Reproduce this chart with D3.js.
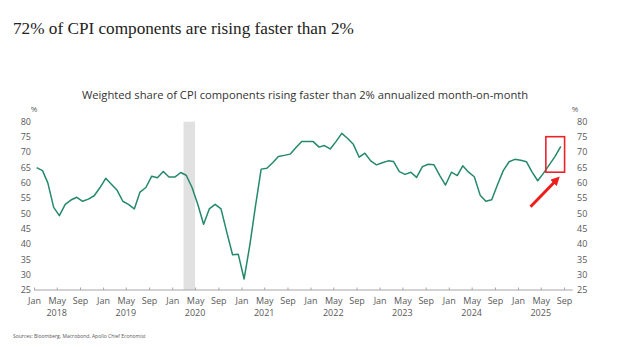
<!DOCTYPE html>
<html>
<head>
<meta charset="utf-8">
<script src="https://cdn.jsdelivr.net/npm/d3@7"></script>
<style>
  html, body { margin: 0; padding: 0; background: #fff; }
  svg { display: block; }
</style>
</head>
<body>
<div id="chart"></div>
<script>
// monthly values, Jan 2018 .. Aug 2025 (weighted share, %)
const startMonth = "2018-01";
const shareValues = [
  65, 64, 60, 52, 49.3, 53, 54.4, 55.3, 54, 54.7, 55.8, 58.4,
  61.5, 59.5, 57.7, 54, 53, 51.5, 57, 58.5, 62.2, 61.7, 63.7, 61.9,
  61.9, 63.4, 62.5, 58.5, 53, 46.5, 51.5, 53, 51.5, 44, 36.5, 36.7,
  28.6, 40, 52, 64.5, 64.8, 66.6, 68.6, 69, 69.4, 71.5, 73.5, 73.5,
  73.5, 71.7, 72.2, 71.1, 73.5, 76.2, 74.6, 72.6, 68.4, 69.7, 67.2, 65.9,
  66.6, 67.2, 67.0, 63.7, 62.8, 63.5, 61.8, 65.3, 66.1, 65.9, 62.4, 59.3,
  63.5, 62.4, 65.6, 63.5, 62, 56, 54, 54.5, 59.5, 64, 66.9, 67.7,
  67.4, 66.9, 63.7, 60.7, 63.1, 65.9, 68.6, 71.9
];
const yTicks = [25, 30, 35, 40, 45, 50, 55, 60, 65, 70, 75, 80];
const monthTickNames = ["Jan", "May", "Sep"];
const years = [2018, 2019, 2020, 2021, 2022, 2023, 2024, 2025];
const recession = ["2020-03-01", "2020-05-01"];
const highlightBox = { from: "2025-05-28", to: "2025-09-04", low: 63.5, high: 75.1 };
const arrowFrom = { date: "2025-03-08", value: 52.2 };
const arrowTo = { date: "2025-07-14", value: 60.4 };

const width = 624, height = 347;
const parse = d3.utcParse("%Y-%m-%d");
const data = shareValues.map((v, i) => {
  const d = d3.utcMonth.offset(d3.utcParse("%Y-%m")(startMonth), i);
  return { date: d3.utcDay.offset(d, 14), value: v };
});

const x = d3.scaleUtc()
  .domain([parse("2018-01-01"), parse("2025-10-01")])
  .range([34, 569.7]);
const y = d3.scaleLinear().domain([25, 80]).range([290, 121.7]);

const svg = d3.select("#chart").append("svg")
  .attr("width", width)
  .attr("height", height)
  .attr("font-family", "'Open Sans', 'Noto Sans', sans-serif");

// headline
svg.append("text")
  .attr("x", 13).attr("y", 34)
  .attr("font-family", "'Liberation Serif', 'DejaVu Serif', serif")
  .attr("font-size", 17.2)
  .attr("fill", "#222")
  .text("72% of CPI components are rising faster than 2%");

// chart title
svg.append("text")
  .attr("x", 305).attr("y", 99)
  .attr("text-anchor", "middle")
  .attr("font-size", 11.2)
  .attr("fill", "#333")
  .text("Weighted share of CPI components rising faster than 2% annualized month-on-month");

// recession band
svg.append("rect")
  .attr("x", x(parse(recession[0])))
  .attr("y", y(80))
  .attr("width", x(parse(recession[1])) - x(parse(recession[0])))
  .attr("height", y(25) - y(80))
  .attr("fill", "#e1e1e1");

// y labels both sides
const yl = svg.append("g").attr("font-size", 9).attr("fill", "#595959");
yl.selectAll(".left").data(yTicks).join("text")
  .attr("x", 31).attr("y", d => y(d)).attr("dy", "0.35em")
  .attr("text-anchor", "end").text(d => d);
yl.selectAll(".right").data(yTicks).join("text")
  .attr("x", 577).attr("y", d => y(d)).attr("dy", "0.35em")
  .text(d => d);
yl.append("text").attr("x", 34).attr("y", y(80) - 13).attr("dy", "0.35em")
  .attr("text-anchor", "middle").attr("font-size", 8).text("%");
yl.append("text").attr("x", 575).attr("y", y(80) - 13).attr("dy", "0.35em")
  .attr("text-anchor", "middle").attr("font-size", 8).text("%");

// x axis
const monthTicks = d3.utcMonth.every(4).range(parse("2018-01-01"), parse("2025-10-01"));
const xAxis = d3.axisBottom(x)
  .tickValues(monthTicks)
  .tickSize(-2.5)
  .tickFormat(d => monthTickNames[d.getUTCMonth() / 4]);
const gx = svg.append("g")
  .attr("transform", `translate(0,${y(25)})`)
  .call(xAxis);
gx.select(".domain").attr("stroke", "#a6a6a6").attr("d", `M${x.range()[0]},0H${x.range()[1] + 3}`);
gx.selectAll(".tick line").attr("stroke", "#a6a6a6");
gx.selectAll(".tick text")
  .attr("font-family", "'Open Sans', 'Noto Sans', sans-serif")
  .attr("font-size", 9).attr("fill", "#595959").attr("dy", "0.35em").attr("y", 10.5);

svg.append("g")
  .attr("font-size", 9).attr("fill", "#595959").attr("text-anchor", "middle")
  .selectAll("text").data(years).join("text")
  .attr("x", d => x(parse(`${d}-05-01`)))
  .attr("y", y(25) + 23).attr("dy", "0.35em")
  .text(d => d);

// series
svg.append("path")
  .datum(data)
  .attr("fill", "none")
  .attr("stroke", "#24896b")
  .attr("stroke-width", 1.5)
  .attr("stroke-linejoin", "round")
  .attr("d", d3.line().x(d => x(d.date)).y(d => y(d.value)));

// highlight box
svg.append("rect")
  .attr("x", x(parse(highlightBox.from)))
  .attr("y", y(highlightBox.high))
  .attr("width", x(parse(highlightBox.to)) - x(parse(highlightBox.from)))
  .attr("height", y(highlightBox.low) - y(highlightBox.high))
  .attr("fill", "none")
  .attr("stroke", "#e8242a")
  .attr("stroke-width", 1.6);

// arrow
svg.append("defs").append("marker")
  .attr("id", "head")
  .attr("viewBox", "0 0 10 10")
  .attr("refX", 2).attr("refY", 5)
  .attr("markerWidth", 3).attr("markerHeight", 3)
  .attr("orient", "auto")
  .append("path").attr("d", "M0,0L10,5L0,10z").attr("fill", "#ee1c1c");
svg.append("line")
  .attr("x1", x(parse(arrowFrom.date))).attr("y1", y(arrowFrom.value))
  .attr("x2", x(parse(arrowTo.date))).attr("y2", y(arrowTo.value))
  .attr("stroke", "#ee1c1c")
  .attr("stroke-width", 3)
  .attr("marker-end", "url(#head)");

// source
svg.append("text")
  .attr("x", 13).attr("y", 338)
  .attr("font-size", 5)
  .attr("fill", "#555")
  .text("Sources: Bloomberg, Macrobond, Apollo Chief Economist");
</script>
</body>
</html>
